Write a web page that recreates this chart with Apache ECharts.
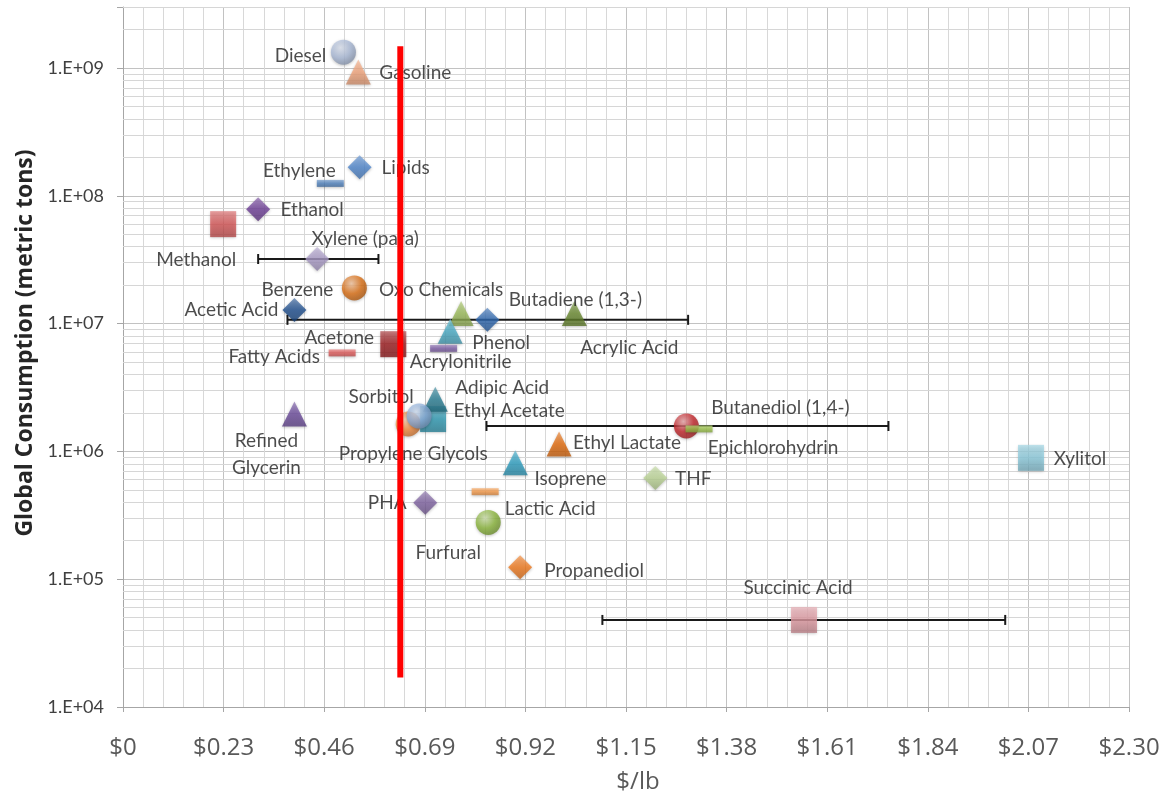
<!DOCTYPE html>
<html>
<head>
<meta charset="utf-8">
<script src="https://cdn.jsdelivr.net/npm/echarts@6/dist/echarts.min.js"></script>
<style>
  html, body { margin: 0; padding: 0; background: #ffffff; overflow: hidden; }
  #chart { width: 1164px; height: 799px; }
</style>
</head>
<body>
<div id="chart"></div>
<script>
// Chemicals plotted: price ($/lb) against global consumption (metric tons)
const chemicals = [
  'Diesel', 'Gasoline', 'Lipids', 'Ethylene', 'Ethanol', 'Methanol',
  'Xylene (para)', 'Benzene', 'Oxo Chemicals', 'Butadiene (1,3-)', 'Acrylic Acid',
  'Phenol', 'Acrylonitrile', 'Acetic Acid', 'Acetone', 'Fatty Acids',
  'Refined Glycerin', 'Propylene Glycols', 'Ethyl Acetate', 'Adipic Acid', 'Sorbitol',
  'Butanediol (1,4-)', 'Epichlorohydrin', 'Ethyl Lactate', 'Isoprene', 'THF',
  'Lactic Acid', 'PHA', 'Furfural', 'Propanediol', 'Succinic Acid', 'Xylitol'
];
const pricePerLb = [
  0.504, 0.538, 0.541, 0.474, 0.309, 0.229,
  0.444, 0.529, 0.773, 0.833, 1.032,
  0.748, 0.733, 0.392, 0.618, 0.501,
  0.392, 0.652, 0.709, 0.714, 0.677,
  1.288, 1.317, 0.997, 0.897, 1.217,
  0.828, 0.691, 0.835, 0.908, 1.557, 2.076
];
const consumptionTons = [
  1.33e9, 9.3e8, 1.67e8, 1.25e8, 7.85e7, 6.0e7,
  3.2e7, 1.9e7, 1.2e7, 1.07e7, 1.2e7,
  8.7e6, 6.4e6, 1.28e7, 6.9e6, 5.9e6,
  1.96e6, 1.64e6, 1.79e6, 2.56e6, 1.89e6,
  1.58e6, 1.5e6, 1.14e6, 8.15e5, 6.2e5,
  4.84e5, 3.97e5, 2.78e5, 1.24e5, 4.8e4, 8.9e5
];

// Price ranges shown as horizontal error bars
const rangeChemicals = ['Xylene (para)', 'Butadiene (1,3-)', 'Butanediol (1,4-)', 'Succinic Acid'];
const rangeLow  = [0.309, 0.376, 0.831, 1.096];
const rangeHigh = [0.584, 1.292, 1.750, 2.017];

// Vertical reference line
const referencePrice = 0.634;
const referenceSpan = [1.7e4, 1.48e9];

// Axis tick labels
const xTickLabels = ['$0', '$0.23', '$0.46', '$0.69', '$0.92', '$1.15', '$1.38', '$1.61', '$1.84', '$2.07', '$2.30'];
const yTickLabels = ['1.E+04', '1.E+05', '1.E+06', '1.E+07', '1.E+08', '1.E+09'];

// Marker styling
const markerShape = {
  'Diesel': 'circle', 'Gasoline': 'triangle', 'Lipids': 'diamond', 'Ethylene': 'dash',
  'Ethanol': 'diamond', 'Methanol': 'square', 'Xylene (para)': 'diamond', 'Benzene': 'circle',
  'Oxo Chemicals': 'triangle', 'Butadiene (1,3-)': 'diamond', 'Acrylic Acid': 'triangle',
  'Phenol': 'triangle', 'Acrylonitrile': 'dash', 'Acetic Acid': 'diamond', 'Acetone': 'square',
  'Fatty Acids': 'dash', 'Refined Glycerin': 'triangle', 'Propylene Glycols': 'circle',
  'Ethyl Acetate': 'square', 'Adipic Acid': 'triangle', 'Sorbitol': 'circle',
  'Butanediol (1,4-)': 'circle', 'Epichlorohydrin': 'dash', 'Ethyl Lactate': 'triangle',
  'Isoprene': 'triangle', 'THF': 'diamond', 'Lactic Acid': 'dash', 'PHA': 'diamond',
  'Furfural': 'circle', 'Propanediol': 'diamond', 'Succinic Acid': 'square', 'Xylitol': 'square'
};
const markerColor = {
  'Diesel': '#a9b9d6', 'Gasoline': '#f2a57c', 'Lipids': '#4f86cc', 'Ethylene': '#4f81bd',
  'Ethanol': '#6f3f98', 'Methanol': '#d55657', 'Xylene (para)': '#ab9cc8', 'Benzene': '#db6f14',
  'Oxo Chemicals': '#9bbb59', 'Butadiene (1,3-)': '#2e68b0', 'Acrylic Acid': '#6a8a30',
  'Phenol': '#4aacc6', 'Acrylonitrile': '#7d5ea6', 'Acetic Acid': '#1f4f8f', 'Acetone': '#9c1c1f',
  'Fatty Acids': '#e05a5a', 'Refined Glycerin': '#6c4c9c', 'Propylene Glycols': '#f28a3c',
  'Ethyl Acetate': '#2f9ab3', 'Adipic Acid': '#2a7f95', 'Sorbitol': '#8fb0dc',
  'Butanediol (1,4-)': '#c4262b', 'Epichlorohydrin': '#9cc44a', 'Ethyl Lactate': '#e36b0c',
  'Isoprene': '#2fa0c2', 'THF': '#bcd596', 'Lactic Acid': '#f59a4a', 'PHA': '#8064a2',
  'Furfural': '#8ab53b', 'Propanediol': '#f07a1e', 'Succinic Acid': '#df9aa2', 'Xylitol': '#8ccbdd'
};
const shapeSymbol = {
  circle: { symbol: 'circle', size: 25 },
  triangle: { symbol: 'triangle', size: [25, 25] },
  diamond: { symbol: 'diamond', size: [24, 24] },
  square: { symbol: 'rect', size: [26, 26] },
  dash: { symbol: 'rect', size: [27, 7] }
};

// Label placement: offset of the label centre from the marker centre
const labelOffset = {
  'Diesel': [-43, 4], 'Gasoline': [57, 1], 'Lipids': [46, 1], 'Ethylene': [-31, -13],
  'Ethanol': [54, 1], 'Methanol': [-27, 36], 'Xylene (para)': [48, -20], 'Benzene': [-57, 2],
  'Oxo Chemicals': [-20, -24], 'Butadiene (1,3-)': [88, -20], 'Acrylic Acid': [55, 34],
  'Phenol': [51, 12], 'Acrylonitrile': [17, 14], 'Acetic Acid': [-63, 0], 'Acetone': [-54, -6],
  'Fatty Acids': [-68, 4], 'Refined Glycerin': [-28, 40], 'Propylene Glycols': [5, 30],
  'Ethyl Acetate': [76, -8], 'Adipic Acid': [67, -11], 'Sorbitol': [-38, -19],
  'Butanediol (1,4-)': [94, -18], 'Epichlorohydrin': [74, 19], 'Ethyl Lactate': [68, -1],
  'Isoprene': [55, 16], 'THF': [38, 1], 'Lactic Acid': [65, 17], 'PHA': [-38, 0],
  'Furfural': [-40, 30], 'Propanediol': [74, 4], 'Succinic Acid': [-6, -32], 'Xylitol': [49, 1]
};
const labelText = { 'Refined Glycerin': 'Refined\nGlycerin' };

function mix(hex, target, t) {
  const n = parseInt(hex.slice(1), 16);
  const r = (n >> 16) & 255, g = (n >> 8) & 255, b = n & 255;
  const m = (c) => Math.round(c + (target - c) * t);
  return 'rgb(' + m(r) + ',' + m(g) + ',' + m(b) + ')';
}
const lighten = (hex, t) => mix(hex, 255, t);
const darken = (hex, t) => mix(hex, 0, t);

function markerFill(shape, c) {
  if (shape === 'circle') {
    return {
      type: 'radial', x: 0.38, y: 0.32, r: 0.75,
      colorStops: [
        { offset: 0, color: lighten(c, 0.6) },
        { offset: 0.55, color: c },
        { offset: 1, color: darken(c, 0.25) }
      ]
    };
  }
  return {
    type: 'linear', x: 0, y: 0, x2: 0, y2: 1,
    colorStops: [
      { offset: 0, color: lighten(c, 0.3) },
      { offset: 0.5, color: c },
      { offset: 1, color: darken(c, 0.18) }
    ]
  };
}

const scatterData = chemicals.map((name, i) => {
  const shape = markerShape[name];
  const spec = shapeSymbol[shape];
  return {
    name: name,
    value: [pricePerLb[i], consumptionTons[i]],
    symbol: spec.symbol,
    symbolSize: spec.size,
    itemStyle: {
      color: markerFill(shape, markerColor[name]),
      shadowBlur: 3,
      shadowOffsetY: 1,
      shadowColor: 'rgba(0,0,0,0.3)'
    },
    label: {
      show: true,
      position: 'inside',
      offset: labelOffset[name],
      formatter: labelText[name] || name
    }
  };
});

// Minor horizontal gridlines at 2..9 within each decade
const minorLevels = [];
for (let e = 4; e <= 9; e++) {
  for (let k = 2; k <= 9; k++) {
    const v = k * Math.pow(10, e);
    if (v <= 3e9) minorLevels.push({ yAxis: v });
  }
}

const errorBarSeries = rangeChemicals.map((name, i) => {
  const y = consumptionTons[chemicals.indexOf(name)];
  const s = {
    type: 'line',
    name: name + ' range',
    data: [[rangeLow[i], y], [rangeHigh[i], y]],
    symbol: 'rect',
    symbolSize: [2, 10],
    showSymbol: true,
    itemStyle: { color: '#1a1a1a' },
    lineStyle: { color: '#1a1a1a', width: 2 },
    z: 3,
    silent: true
  };
  if (i === 0) {
    s.markLine = {
      silent: true,
      symbol: ['none', 'none'],
      label: { show: false },
      lineStyle: { color: '#d6d6d6', width: 1, type: 'solid' },
      data: minorLevels,
      z: 1
    };
  }
  return s;
});

const chart = echarts.init(document.getElementById('chart'), null, { renderer: 'canvas' });

chart.setOption({
  animation: false,
  backgroundColor: '#ffffff',
  grid: { left: 123, top: 7, width: 1006, height: 705.5, containLabel: false },
  xAxis: {
    type: 'value',
    min: 0,
    max: 2.3,
    interval: 0.23,
    name: '$/lb',
    nameLocation: 'middle',
    nameGap: 63,
    nameTextStyle: { fontFamily: 'Open Sans', fontSize: 24, color: '#595959', padding: [0, 0, 0, 24] },
    axisLine: { show: true, lineStyle: { color: '#a6a6a6', width: 1 } },
    axisTick: { show: true, length: 5, lineStyle: { color: '#a6a6a6' } },
    axisLabel: {
      margin: 29,
      fontFamily: 'Open Sans',
      fontSize: 24,
      color: '#595959',
      formatter: (v) => xTickLabels[Math.round(v / 0.23)]
    },
    splitLine: { show: true, lineStyle: { color: '#c2c2c2', width: 1 } },
    minorTick: { show: false, splitNumber: 5 },
    minorSplitLine: { show: true, lineStyle: { color: '#d8d8d8', width: 1 } }
  },
  yAxis: {
    type: 'log',
    logBase: 10,
    min: 1e4,
    max: 3e9,
    name: 'Global Consumption (metric tons)',
    nameLocation: 'middle',
    nameGap: 86,
    nameRotate: 90,
    nameTextStyle: { fontFamily: 'Open Sans', fontWeight: 'bold', fontSize: 23, color: '#262626', padding: [0, 0, 0, 28] },
    axisLine: { show: true, lineStyle: { color: '#a6a6a6', width: 1 } },
    axisTick: { show: true, length: 6, lineStyle: { color: '#a6a6a6' } },
    axisLabel: {
      margin: 19,
      fontFamily: 'Lato',
      fontSize: 18,
      color: '#404040',
      formatter: (v) => {
        const e = Math.log10(v);
        if (Math.abs(e - Math.round(e)) > 1e-6) return '';
        return yTickLabels[Math.round(e) - 4] || '';
      }
    },
    splitLine: { show: true, lineStyle: { color: '#c2c2c2', width: 1 } }
  },
  series: [
    ...errorBarSeries,
    {
      type: 'scatter',
      name: 'Chemicals',
      data: scatterData,
      z: 5,
      label: {
        fontFamily: 'Lato',
        fontSize: 19,
        color: '#1f1f1f',
        align: 'center',
        verticalAlign: 'middle',
        lineHeight: 27
      },
      emphasis: { disabled: true }
    },
    {
      type: 'line',
      name: 'Reference price',
      data: [[referencePrice, referenceSpan[1]], [referencePrice, referenceSpan[0]]],
      symbol: 'none',
      lineStyle: { color: '#ff0000', width: 6, cap: 'butt' },
      z: 20,
      silent: true
    }
  ]
});
</script>
</body>
</html>
